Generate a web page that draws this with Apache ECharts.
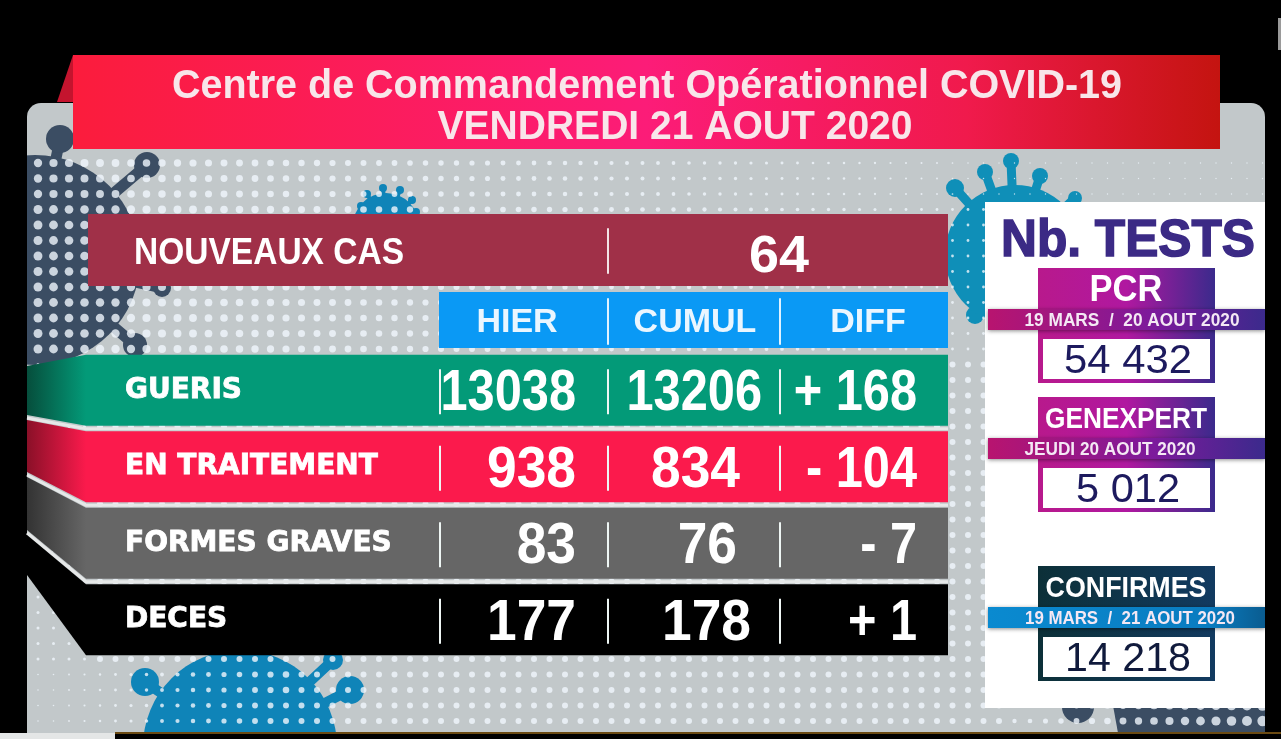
<!DOCTYPE html>
<html>
<head>
<meta charset="utf-8">
<style>html,body{margin:0;padding:0;background:#000}#chart{width:1281px;height:739px}</style>
<script src="https://cdn.jsdelivr.net/npm/echarts@6/dist/echarts.min.js"></script>
</head>
<body>
<div id="chart"></div>
<script>
// data
var titleLines = ['Centre de Commandement Opérationnel COVID-19', 'VENDREDI 21 AOUT 2020'];
var newCasesLabel = 'NOUVEAUX CAS';
var newCases = 64;
var columns = ['HIER', 'CUMUL', 'DIFF'];
var rows = ['GUERIS', 'EN TRAITEMENT', 'FORMES GRAVES', 'DECES'];
var hier = [13038, 938, 83, 177];
var cumul = [13206, 834, 76, 178];
var diff = [168, -104, -7, 1];
var testsTitle = 'Nb. TESTS';
var testNames = ['PCR', 'GENEXPERT', 'CONFIRMES'];
var testDates = ['19 MARS  /  20 AOUT 2020', 'JEUDI 20 AOUT 2020', '19 MARS  /  21 AOUT 2020'];
var testValues = [54432, 5012, 14218];

var SANS = '"Liberation Sans", Arial, sans-serif';
var measure = document.createElement('canvas').getContext('2d');

function grad(stops, x2, y2) {
    return {
        type: 'linear', x: 0, y: 0, x2: x2 === undefined ? 1 : x2, y2: y2 || 0,
        colorStops: stops.map(function (s) { return { offset: s[0], color: s[1] }; })
    };
}
function rect(x, y, w, h, fill, extra) {
    var st = Object.assign({ fill: fill }, extra || {});
    return { type: 'rect', shape: { x: x, y: y, width: w, height: h }, style: st, silent: true };
}
function poly(points, fill) {
    return { type: 'polygon', shape: { points: points }, style: { fill: fill }, silent: true };
}
function line(x1, y1, x2, y2, color, w) {
    return { type: 'line', shape: { x1: x1, y1: y1, x2: x2, y2: y2 }, style: { stroke: color, lineWidth: w, lineCap: 'round' }, silent: true };
}
// text squeezed to the width it has in the picture
function txt(text, x, y, font, fill, width, align, strokeW) {
    measure.font = font;
    var sx = width ? width / measure.measureText(text).width : 1;
    return {
        type: 'text', x: x, y: y, scaleX: sx, silent: true,
        style: {
            text: text, x: 0, y: 0, font: font, fill: fill,
            align: align || 'center', textAlign: align || 'center',
            verticalAlign: 'middle', textVerticalAlign: 'middle',
            stroke: strokeW ? fill : null, lineWidth: strokeW || 0
        }
    };
}
function virus(cx, cy, r, color, knobs, armW) {
    var out = [];
    knobs.forEach(function (k) {
        out.push(line(cx, cy, k[0], k[1], color, armW));
        out.push({ type: 'circle', shape: { cx: k[0], cy: k[1], r: k[2] }, style: { fill: color }, silent: true });
    });
    out.push({ type: 'circle', shape: { cx: cx, cy: cy, r: r }, style: { fill: color }, silent: true });
    return out;
}
function dotRadius(x, y) {
    if (y < 200) return Math.max(0.7, 4.3 - x * 0.0036);
    if (y < 350) return Math.max(1.4, 4.6 - x * 0.0035);
    if (y > 660 && y < 705) return x < 60 ? 0.8 : x < 300 ? 0.8 + (x - 60) * 0.011 : 3;
    if (y >= 705) return x < 60 ? 0.8 : x < 1000 ? Math.min(3, 0.8 + (x - 60) * 0.011) : 2 + (x - 1000) * 0.012;
    return x < 90 ? 1.5 : 3;
}
function dots() {
    var out = [];
    for (var x = 38; x < 1265; x += 15.5) {
        for (var y = 163; y < 732; y += 15.5) {
            out.push({ type: 'circle', shape: { cx: x, cy: y, r: dotRadius(x, y) }, style: { fill: 'rgba(240,246,252,0.8)' }, silent: true });
        }
    }
    return { type: 'group', silent: true, children: out };
}
function spaced(v) {
    return String(v).replace(/\B(?=(\d{3})+$)/g, ' ');
}
function signed(v) {
    return (v < 0 ? '- ' : '+ ') + Math.abs(v);
}

var gfx = [];
// panel and decoration
gfx.push(rect(27, 103, 1238, 640, '#c2c8ca', { }));
gfx[0].shape.r = [14, 14, 0, 0];
gfx = gfx.concat(virus(35, 260, 105, '#3b4d63', [[60, 139, 14], [147, 165, 13], [162, 288, 9], [135, 345, 12]], 11));
gfx = gfx.concat(virus(386, 226, 33, '#0f84b8', [[361, 206, 4], [367, 194, 4], [383, 188, 4], [400, 190, 4], [412, 200, 4], [416, 212, 4]], 4));
gfx = gfx.concat(virus(1015, 255, 70, '#0f8fb8', [[955, 188, 9], [985, 172, 8], [1011, 161, 8], [1040, 176, 8], [1075, 198, 7], [975, 315, 9]], 9));
gfx = gfx.concat(virus(240, 747, 97, '#0f84b8', [[145, 682, 14], [350, 690, 14], [333, 660, 10]], 10));
gfx.push(poly([[1112, 700], [1265, 700], [1265, 733], [1118, 733]], '#3b4d63'));
gfx.push({ type: 'circle', shape: { cx: 1078, cy: 707, r: 16 }, style: { fill: '#3b4d63' }, silent: true });
gfx.push(dots());
// frame around the panel
gfx.push(rect(0, 100, 27, 639, '#000'));
gfx.push(rect(1265, 100, 16, 639, '#000'));
gfx.push(rect(0, 733, 1281, 6, '#000'));
gfx.push(rect(0, 733, 115, 6, '#e4e6e6'));
gfx.push(rect(115, 732, 1166, 2, '#6b4a12'));
gfx.push(rect(1278, 18, 3, 32, '#9a9a9a'));

// title banner
gfx.push(poly([[57, 102], [73, 55], [73, 102]], '#c4142e'));
gfx.push(rect(73, 55, 1147, 94, grad([[0, '#fb1c3c'], [0.5, '#fc1c78'], [0.78, '#f01a4c'], [1, '#c41410']])));
gfx.push(txt(titleLines[0], 647, 87, 'bold 40px ' + SANS, '#f8e6ea', 950));
gfx.push(txt(titleLines[1], 675, 128, 'bold 40px ' + SANS, '#f8e6ea', 475));

// new cases and the header band
gfx.push(rect(88, 214, 860, 72, '#a03048'));
gfx.push(txt(newCasesLabel, 134, 254, 'bold 36px ' + SANS, '#fff', 270, 'left'));
gfx.push(txt(String(newCases), 779, 258, 'bold 52px ' + SANS, '#fff', 60));
gfx.push(line(608, 229, 608, 273, '#f2e4e6', 2));
gfx.push(rect(439, 292, 509, 56, '#0a99f5'));
gfx.push(line(608, 299, 608, 344, '#e0f2ff', 2));
gfx.push(line(780, 299, 780, 344, '#e0f2ff', 2));

// test panel
gfx.push(rect(985, 202, 280, 506, '#fff'));
gfx.push(txt(testsTitle, 1128, 242, 'bold 52px ' + SANS, '#3b2a85', 254, 'center', 1.5));
var testTop = [268, 397, 566];
var boxFill = [
    grad([[0, '#b8198c'], [0.5, '#b018a0'], [1, '#3b2a8c']]),
    grad([[0, '#b8198c'], [0.5, '#b018a0'], [1, '#3b2a8c']]),
    grad([[0, '#0c3038'], [1, '#123a60']])
];
var ribbonFill = [
    grad([[0, '#b8146f'], [0.6, '#7c1a9c'], [1, '#3b2a8c']]),
    grad([[0, '#b8146f'], [0.6, '#7c1a9c'], [1, '#3b2a8c']]),
    grad([[0, '#0a8ad0'], [0.8, '#0a7cc0'], [1, '#0a5c90']])
];
var nameSize = [36, 30, 30];
var nameW = [73, 162, 161];
var dateX = [1132, 1110, 1130];
var dateW = [215, 171, 210];
var valueW = [128, 104, 126];
var valueFill = ['#1d1a5e', '#1d1a5e', '#101a3c'];
testNames.forEach(function (name, i) {
    var t = testTop[i];
    gfx.push(rect(1038, t, 177, 115, boxFill[i]));
    gfx.push(txt(name, 1126, t + 23, 'bold ' + nameSize[i] + 'px ' + SANS, '#fff', nameW[i]));
    gfx.push(rect(988, t + 41, 277, 21, ribbonFill[i], { shadowBlur: 4, shadowColor: 'rgba(0,0,0,0.45)', shadowOffsetY: 1 }));
    gfx.push(txt(testDates[i], dateX[i], t + 53, 'bold 18px ' + SANS, '#f4e8f4', dateW[i]));
    gfx.push(rect(1043, t + 71, 167, 40, '#fff'));
    gfx.push(txt(spaced(testValues[i]), 1128, t + 94, '41px ' + SANS, valueFill[i], valueW[i]));
});

// bands of the table, each with its folded left end
var bandFill = ['#039a78', '#fb1a4c', '#666666', '#000000'];
var foldDark = ['#064e3c', '#8a1028', '#333333', '#000000'];
var foldTop = [366, 420, 477, 535];
var foldBottom = [415, 472, 530, 575];
var LABEL_W = 353;
var BAND_H = 71;
// right edge of the figures, the CUMUL column does not line up in the picture
var cumulRight = [762, 740, 737, 751];

function renderBand(params, api) {
    var row = api.value(1);
    var c = api.coord([0, row]);
    var size = api.size([1, 1]);
    var start = c[0] - size[0] / 2;
    var top = c[1] - BAND_H / 2;
    var bottom = top + BAND_H;
    var left = start - LABEL_W;
    var children = [
        { type: 'polygon', shape: { points: [[27, foldTop[row]], [left, top], [left, bottom], [27, foldBottom[row]]] },
          style: { fill: grad([[0, foldDark[row]], [1, bandFill[row]]]) } },
        { type: 'rect', shape: { x: left, y: top, width: LABEL_W + 3 * size[0] - 1, height: BAND_H },
          style: { fill: bandFill[row] } }
    ];
    if (row < rows.length - 1) {
        children.push({ type: 'polyline', shape: { points: [[27, foldBottom[row] + 3], [left, bottom + 3], [left + LABEL_W + 3 * size[0] - 1, bottom + 3]] },
          style: { stroke: '#e6e8e8', lineWidth: 3, fill: null } });
    }
    return { type: 'group', children: children };
}

function renderCell(params, api) {
    var col = api.value(0);
    var row = api.value(1);
    var c = api.coord([col, row]);
    var size = api.size([1, 1]);
    var x0 = c[0] - size[0] / 2 + (col === 1 ? -1 : 1);
    var text, right, sx;
    if (col === 0) { text = String(hier[row]); right = 576; }
    if (col === 1) { text = String(cumul[row]); right = cumulRight[row]; }
    if (col === 2) { text = signed(diff[row]); right = 917; }
    sx = text.length === 5 && col < 2 ? 0.84 : col === 2 ? 0.84 : 0.92;
    return {
        type: 'group',
        children: [
            { type: 'line', shape: { x1: x0, y1: c[1] - 21, x2: x0, y2: c[1] + 24 }, style: { stroke: '#eef6f4', lineWidth: 2 } },
            { type: 'text', x: right, y: c[1] + 4, scaleX: sx,
              style: { text: text, x: 0, y: 0, font: 'bold 58px ' + SANS, fill: '#fff',
                       align: 'right', textAlign: 'right', verticalAlign: 'middle', textVerticalAlign: 'middle' } }
        ]
    };
}

var bandData = rows.map(function (r, i) { return [0, i]; });
var cellData = [];
rows.forEach(function (r, i) {
    columns.forEach(function (c, j) { cellData.push([j, i]); });
});

var headerShift = { HIER: [0, 14, 0, 0], CUMUL: [0, 0, 0, 2], DIFF: [0, 0, 0, 8] };
var chart = echarts.init(document.getElementById('chart'));
chart.setOption({
    animation: false,
    backgroundColor: '#000',
    graphic: { elements: gfx },
    grid: { left: 439, top: 352, width: 510, height: 306, containLabel: false },
    xAxis: {
        type: 'category', position: 'top', data: columns, z: 10,
        axisLine: { show: false }, axisTick: { show: false }, splitLine: { show: false },
        axisLabel: {
            interval: 0, margin: 12, color: '#eaf6ff', fontFamily: SANS, fontWeight: 'bold', fontSize: 34,
            formatter: function (v) { return '{' + v + '|' + v + '}'; },
            rich: {
                HIER: { padding: headerShift.HIER, fontSize: 34, fontWeight: 'bold', fontFamily: SANS, color: '#eaf6ff' },
                CUMUL: { padding: headerShift.CUMUL, fontSize: 34, fontWeight: 'bold', fontFamily: SANS, color: '#eaf6ff' },
                DIFF: { padding: headerShift.DIFF, fontSize: 34, fontWeight: 'bold', fontFamily: SANS, color: '#eaf6ff' }
            }
        }
    },
    yAxis: {
        type: 'category', inverse: true, data: rows, z: 10,
        axisLine: { show: false }, axisTick: { show: false }, splitLine: { show: false },
        axisLabel: {
            interval: 0, align: 'left', margin: 314, color: '#fff', fontFamily: '"DejaVu Sans", sans-serif',
            fontWeight: 'bold', fontSize: 28, textBorderColor: '#fff', textBorderWidth: 0.8
        }
    },
    series: [
        { type: 'custom', name: 'bands', coordinateSystem: 'cartesian2d', z: 2, silent: true,
          encode: { x: 0, y: 1 }, data: bandData, renderItem: renderBand, clip: false },
        { type: 'custom', name: 'cells', coordinateSystem: 'cartesian2d', z: 3, silent: true,
          encode: { x: 0, y: 1 }, data: cellData, renderItem: renderCell, clip: false }
    ]
});
</script>
</body>
</html>
